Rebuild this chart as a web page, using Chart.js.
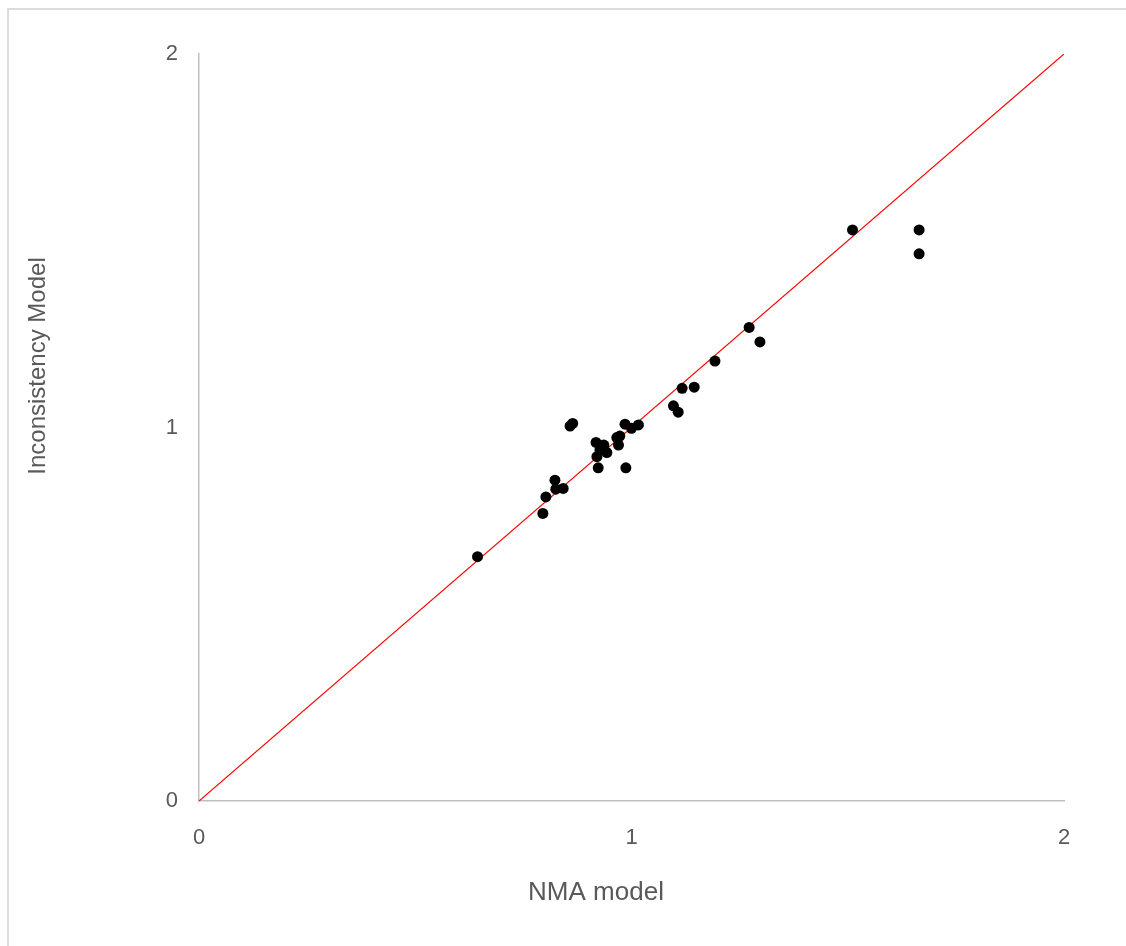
<!DOCTYPE html>
<html>
<head>
<meta charset="utf-8">
<script src="https://cdn.jsdelivr.net/npm/chart.js@4/dist/chart.umd.min.js"></script>
<style>
    html, body { margin: 0; padding: 0; background: #fff; overflow: hidden; }
    #marco { position: absolute; left: 7px; top: 8px; width: 1300px; height: 1100px;
             border: 2px solid #dcdcdc; box-sizing: border-box; }
    #contenedor { position: absolute; left: 0; top: 0; width: 1126px; height: 946px; }
</style>
</head>
<body>
<div id="marco"></div>
<div id="contenedor"><canvas id="grafico" width="1126" height="946"></canvas></div>
<script>
// Valores (eje X = NMA, eje Y = modelo de inconsistencia)
const nmaModel = [0.644, 0.795, 0.802, 0.823, 0.825, 0.842, 0.858, 0.864, 0.918, 0.920,
                  0.923, 0.927, 0.936, 0.943, 0.966, 0.970, 0.973, 0.985, 0.987, 1.000,
                  1.016, 1.097, 1.108, 1.117, 1.145, 1.193, 1.272, 1.297, 1.511, 1.665,
                  1.665];
const inconsistencyModel = [0.654, 0.770, 0.814, 0.859, 0.835, 0.837, 1.004, 1.011, 0.960, 0.922,
                            0.892, 0.940, 0.953, 0.933, 0.973, 0.953, 0.977, 1.009, 0.892, 0.998,
                            1.007, 1.058, 1.041, 1.105, 1.108, 1.178, 1.268, 1.229, 1.529, 1.529,
                            1.465];

// Linea de referencia y = x
const lineaX = [0, 2];
const lineaY = [0, 2];

const ticksEjes = ["0", "1", "2"];
const tituloX = "NMA model";
const tituloY = "Inconsistency Model";

const puntos = nmaModel.map((x, i) => ({ x: x, y: inconsistencyModel[i] }));
const linea = lineaX.map((x, i) => ({ x: x, y: lineaY[i] }));

const colorTexto = "#595959";
const fuente = "'Liberation Sans', Arial, sans-serif";

// Los titulos del original no van centrados en el area del grafico,
// por eso se dibujan aparte
const titulosEjes = {
    id: "titulosEjes",
    afterDraw: function(chart){
        const ctx = chart.ctx;
        const area = chart.chartArea;
        ctx.save();
        ctx.fillStyle = colorTexto;
        ctx.textAlign = "center";
        ctx.textBaseline = "middle";
        ctx.font = "26px " + fuente;
        ctx.fillText(tituloX, area.left + 397, area.bottom + 92);
        ctx.translate(38, area.top + 312);
        ctx.rotate(-Math.PI / 2);
        ctx.font = "24px " + fuente;
        ctx.fillText(tituloY, 0, 0);
        ctx.restore();
    }
};

const canvas = document.getElementById("grafico").getContext("2d");
new Chart(canvas, {
    type: "scatter",
    data: {
        datasets: [
            {
                label: "Puntos",
                data: puntos,
                backgroundColor: "#000000",
                borderColor: "#000000",
                pointRadius: 5.5,
                pointBorderWidth: 0
            },
            {
                label: "y = x",
                type: "line",
                data: linea,
                borderColor: "#ff0000",
                borderWidth: 1.2,
                pointRadius: 0,
                fill: false
            }
        ]
    },
    options: {
        responsive: false,
        animation: false,
        layout: { padding: { left: 0, top: 54, right: 62, bottom: 0 } },
        plugins: { legend: { display: false }, tooltip: { enabled: false } },
        scales: {
            x: {
                type: "linear",
                min: 0, max: 2,
                grid: { display: false, drawTicks: false },
                border: { color: "#bfbfbf", width: 1.5 },
                ticks: {
                    stepSize: 1, padding: 24, color: colorTexto,
                    font: { size: 22, family: fuente },
                    callback: (v) => ticksEjes[v] ?? ""
                },
                afterFit: (s) => { s.height = 145; }
            },
            y: {
                type: "linear",
                min: 0, max: 2,
                grid: { display: false, drawTicks: false },
                border: { color: "#bfbfbf", width: 1.5 },
                ticks: {
                    stepSize: 1, padding: 21, color: colorTexto,
                    font: { size: 22, family: fuente },
                    callback: (v) => ticksEjes[v] ?? ""
                },
                afterFit: (s) => { s.width = 199; }
            }
        }
    },
    plugins: [titulosEjes]
});
</script>
</body>
</html>
